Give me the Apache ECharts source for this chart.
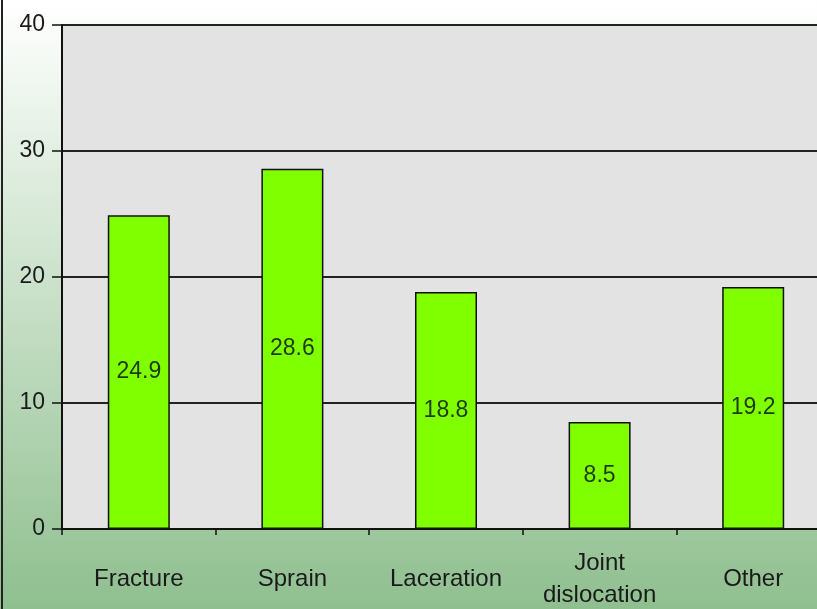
<!DOCTYPE html>
<html>
<head>
<meta charset="utf-8">
<script src="https://cdn.jsdelivr.net/npm/echarts@6/dist/echarts.min.js"></script>
<style>html,body{margin:0;padding:0;overflow:hidden;}#c{width:817px;height:609px;}</style>
</head>
<body>
<div id="c"></div>
<script>
var categories = ['Fracture', 'Sprain', 'Laceration', 'Joint\ndislocation', 'Other'];
var values = [24.9, 28.6, 18.8, 8.5, 19.2];
var yTicks = [0, 10, 20, 30, 40];

var chart = echarts.init(document.getElementById('c'));
chart.setOption({
  animation: false,
  backgroundColor: {
    type: 'linear', x: 0, y: 0, x2: 0, y2: 1,
    colorStops: [{offset: 0, color: '#ffffff'}, {offset: 1, color: '#8fbf8f'}]
  },
  textStyle: {fontFamily: 'Liberation Sans, Arial, sans-serif'},
  graphic: [{
    type: 'line', shape: {x1: 2, y1: 0, x2: 2, y2: 609},
    style: {stroke: '#222', lineWidth: 2}, z: 100
  }],
  grid: {
    left: 62, top: 25, bottom: 80, width: 768,
    outerBoundsMode: 'none', containLabel: false,
    show: true, backgroundColor: '#e3e3e3', borderWidth: 0
  },
  xAxis: {
    type: 'category',
    data: categories,
    axisLine: {lineStyle: {color: '#111', width: 2}},
    axisTick: {show: true, length: 6, lineStyle: {color: '#111', width: 1.5}},
    axisLabel: {
      color: '#1a1a1a', fontSize: 24, margin: 50, verticalAlign: 'middle',
      lineHeight: 32, interval: 0
    }
  },
  yAxis: {
    type: 'value', min: yTicks[0], max: yTicks[yTicks.length - 1], interval: 10,
    axisLine: {show: true, lineStyle: {color: '#111', width: 2}},
    axisTick: {show: true, length: 10, lineStyle: {color: '#111', width: 1.5}},
    axisLabel: {color: '#1a1a1a', fontSize: 23, margin: 17},
    splitLine: {show: true, lineStyle: {color: '#222', width: 2}}
  },
  series: [{
    type: 'bar',
    data: values,
    barWidth: 62,
    itemStyle: {color: '#80ff00', borderColor: '#111', borderWidth: 1.5},
    label: {
      show: true, position: 'inside', color: '#1f3a0a', fontSize: 23,
      fontFamily: 'Liberation Sans, Arial, sans-serif'
    }
  }]
});
</script>
</body>
</html>
